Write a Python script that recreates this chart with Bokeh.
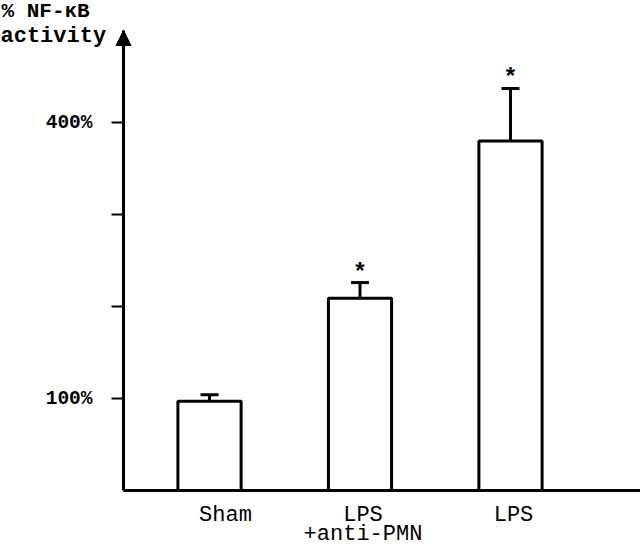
from bokeh.plotting import figure
from bokeh.models import (FixedTicker, Arrow, NormalHead, Whisker, ColumnDataSource,
                          Label, LabelSet, Range1d, TeeHead)
from bokeh.embed import file_html
from bokeh.resources import INLINE
from bokeh.core.properties import value

# ---- data ----
categories = ["Sham", "LPS\n+anti-PMN", "LPS"]
nfkb_activity = [97, 209, 380]
sem = [7, 17, 57]
significant = ["", "*", "*"]

y_ticks = [100, 200, 300, 400]
y_tick_labels = {100: "100%", 200: "", 300: "", 400: "400%"}

# ---- layout constants ----
FONT = "Liberation Mono"
W, H = 640, 546
ZERO_PX, PX_PER_UNIT_Y = 490, 0.92       # y: pixel row of 0 %, pixels per 1 %
ORIGIN_PX, PX_PER_UNIT_X = 209, 150.5    # x: pixel column of first bar, pixels per category
AXIS_PX = 123                            # pixel column of the y axis
LABEL_NUDGE_PX = [16, 3, 3]              # horizontal nudge of each category label

def px2x(px):
    return (px - ORIGIN_PX) / PX_PER_UNIT_X

def px2y(py):
    return (ZERO_PX - py) / PX_PER_UNIT_Y

X_START, X_END = px2x(0), px2x(W)
Y_START, Y_END = px2y(H), px2y(0)
Y_AXIS_X = px2x(AXIS_PX)
Y_TOP = 500

pos = list(range(len(categories)))
upper = [v + e for v, e in zip(nfkb_activity, sem)]
line1 = [c.split("\n")[0] for c in categories]
line2 = [c.split("\n")[1] if "\n" in c else "" for c in categories]
src = ColumnDataSource(dict(x=pos, top=nfkb_activity, upper=upper, star=significant,
                            line1=line1, line2=line2, zero=[0] * len(pos),
                            dx=LABEL_NUDGE_PX))

p = figure(width=W, height=H, x_range=Range1d(X_START, X_END), y_range=Range1d(Y_START, Y_END),
           output_backend="svg", toolbar_location=None,
           min_border=0, min_border_left=0, min_border_right=0, min_border_top=0, min_border_bottom=0)
p.grid.visible = False
p.outline_line_color = None
p.background_fill_color = "white"
p.border_fill_color = "white"

# bars
p.vbar(x="x", top="top", bottom=0, width=0.42, source=src,
       fill_color="white", line_color="black", line_width=3)

# error bars (upper only)
p.add_layout(Whisker(base="x", lower="top", upper="upper", source=src,
                     upper_head=TeeHead(size=18, line_width=3, line_color="black"),
                     lower_head=None, line_width=3, line_color="black"))

# asterisks
p.add_layout(LabelSet(x="x", y="upper", text="star", source=src, y_offset=3,
                      text_align="center", text_baseline="alphabetic",
                      text_font=value(FONT), text_font_style="bold",
                      text_font_size="24px", text_color="black"))

# category labels under the axis (two centred lines)
for col, off in (("line1", -12), ("line2", -31)):
    p.add_layout(LabelSet(x="x", y="zero", text=col, source=src, y_offset=off,
                          x_offset="dx", text_align="center", text_baseline="top",
                          text_font=value(FONT), text_font_size="22px", text_color="black"))

# y axis, drawn at a fixed location inside the frame
yax = p.yaxis[0]
yax.fixed_location = Y_AXIS_X
yax.bounds = (0, Y_TOP)
yax.ticker = FixedTicker(ticks=y_ticks)
yax.major_label_overrides = y_tick_labels
yax.major_tick_out = 12
yax.major_tick_in = 0
yax.major_tick_line_width = 2
yax.minor_tick_line_color = None
yax.axis_line_width = 3
yax.major_label_standoff = 19
yax.major_label_text_font = FONT
yax.major_label_text_font_style = "bold"
yax.major_label_text_font_size = "19.5px"
yax.major_label_text_color = "black"

# x axis (line only)
xax = p.xaxis[0]
xax.fixed_location = 0
xax.bounds = (Y_AXIS_X, X_END)
xax.ticker = FixedTicker(ticks=[])
xax.axis_line_width = 3
xax.major_tick_line_color = None
xax.minor_tick_line_color = None

# arrow head on y axis
p.add_layout(Arrow(end=NormalHead(size=15, fill_color="black", line_color="black"),
                   x_start=Y_AXIS_X, y_start=Y_TOP - 30, x_end=Y_AXIS_X, y_end=Y_TOP,
                   line_width=3, line_color="black"))

# axis title
p.add_layout(Label(x=X_START, y=px2y(11), x_offset=1, text="% NF-\u03baB",
                   text_font=FONT, text_font_style="bold", text_font_size="21px",
                   text_color="black", text_baseline="alphabetic", text_align="left"))
p.add_layout(Label(x=X_START, y=px2y(36), x_offset=0, text="activity",
                   text_font=FONT, text_font_style="bold", text_font_size="22px",
                   text_color="black", text_baseline="alphabetic", text_align="left"))

open("out.html", "w").write(file_html(p, INLINE))
